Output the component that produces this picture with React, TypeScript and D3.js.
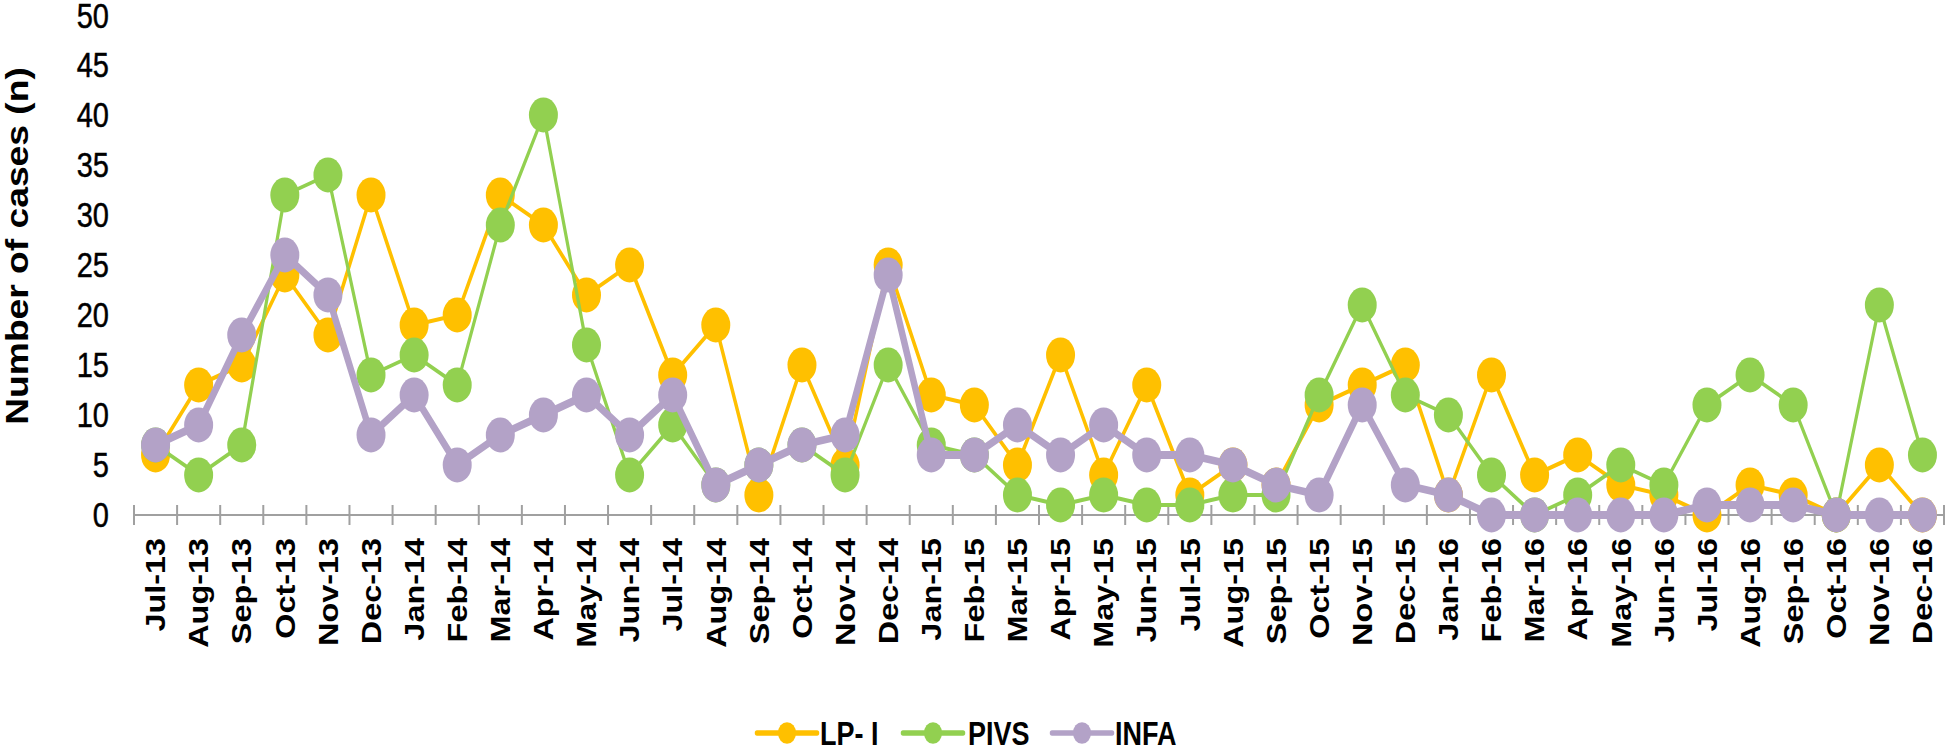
import React from "react";
import * as d3 from "d3";

const months = [
  "Jul-13","Aug-13","Sep-13","Oct-13","Nov-13","Dec-13",
  "Jan-14","Feb-14","Mar-14","Apr-14","May-14","Jun-14","Jul-14","Aug-14","Sep-14","Oct-14","Nov-14","Dec-14",
  "Jan-15","Feb-15","Mar-15","Apr-15","May-15","Jun-15","Jul-15","Aug-15","Sep-15","Oct-15","Nov-15","Dec-15",
  "Jan-16","Feb-16","Mar-16","Apr-16","May-16","Jun-16","Jul-16","Aug-16","Sep-16","Oct-16","Nov-16","Dec-16",
];

const lpI = [6,13,15,24,18,32,19,20,32,29,22,25,14,19,2,15,5,25,12,11,5,16,4,13,2,5,3,11,13,15,2,14,4,6,3,2,0,3,2,0,5,0];
const pivs = [7,4,7,32,34,14,16,13,29,40,17,4,9,3,5,7,4,15,7,6,2,1,2,1,1,2,2,12,21,12,10,4,0,2,5,3,11,14,11,0,21,6];
const infa = [7,9,18,26,22,8,12,5,8,10,12,8,12,3,5,7,8,24,6,6,9,6,9,6,6,5,3,2,11,3,2,0,0,0,0,0,1,1,1,0,0,0];

const yTicks = [0,5,10,15,20,25,30,35,40,45,50];

const seriesNames = ["LP- I", "PIVS", "INFA"];
const seriesValues = [lpI, pivs, infa];
const seriesColors = ["#FFC000", "#92D050", "#B3A2C7"];
const seriesWidths = [3.5, 3.2, 6.5];

const K = 1.2; // vertical stretch of the whole drawing
const X0 = 134;
const X1 = 1944;
const Y0 = 515 / K;
const Y50 = 15 / K;

export default function App() {
  const x = d3.scaleBand<string>().domain(months).range([X0, X1]).paddingInner(0).paddingOuter(0);
  const y = d3.scaleLinear().domain([0, 50]).range([Y0, Y50]);
  const bw = x.bandwidth();
  const cx = (m: string) => (x(m) as number) + bw / 2;
  const line = d3
    .line<number>()
    .x((_, i) => cx(months[i]))
    .y((v) => y(v));

  const tickXs = d3.range(months.length + 1).map((i) => X0 + i * bw);
  const font = "'Liberation Sans', Arial, sans-serif";

  const legendItems = [
    { lineX: 757, textX: 820 },
    { lineX: 903, textX: 968 },
    { lineX: 1052, textX: 1115 },
  ];
  const legY = 733 / K;

  return (
    <div style={{ position: "absolute", left: 0, top: 0 }}>
      <svg width={1946} height={750} style={{ display: "block", background: "#fff" }}>
        <g transform={`scale(1, ${K})`}>
          {/* y tick labels */}
          {yTicks.map((t) => (
            <text
              key={t}
              x={109}
              y={y(t) + (t === 50 ? 0.5 : 0)}
              dy="0.35em"
              textAnchor="end"
              fontFamily={font}
              fontSize={29}
              fill="#000"
              stroke="#000"
              strokeWidth={0.4}
            >
              {t}
            </text>
          ))}
          {/* y title */}
          <text
            transform={`translate(17, ${246 / K}) rotate(-90)`}
            textAnchor="middle"
            dy="0.35em"
            fontFamily={font}
            fontWeight="bold"
            fontSize={31}
            fill="#000"
          >
            Number of cases (n)
          </text>
          {/* x axis */}
          <line x1={X0} x2={X1} y1={Y0} y2={Y0} stroke="#A0A0A0" strokeWidth={1.8} />
          {tickXs.map((tx, i) => (
            <line key={i} x1={tx} x2={tx} y1={505 / K} y2={525 / K} stroke="#A0A0A0" strokeWidth={2} />
          ))}
          {months.map((m) => (
            <text
              key={m}
              transform={`translate(${cx(m)}, ${538 / K}) rotate(-90)`}
              textAnchor="end"
              dy="0.36em"
              fontFamily={font}
              fontWeight="bold"
              fontSize={27}
              fill="#000"
            >
              {m}
            </text>
          ))}
          {/* series */}
          {seriesValues.map((vals, s) => (
            <g key={seriesNames[s]}>
              <path
                d={line(vals) as string}
                fill="none"
                stroke={seriesColors[s]}
                strokeWidth={seriesWidths[s]}
                strokeLinejoin="round"
              />
              {vals.map((v, i) => (
                <circle key={i} cx={cx(months[i])} cy={y(v)} r={14.5} fill={seriesColors[s]} />
              ))}
            </g>
          ))}
          {/* legend */}
          {legendItems.map((it, s) => (
            <g key={s}>
              <line
                x1={it.lineX}
                x2={it.lineX + 60}
                y1={legY}
                y2={legY}
                stroke={seriesColors[s]}
                strokeWidth={4.5}
                strokeLinecap="round"
              />
              <circle cx={it.lineX + 30} cy={legY} r={9} fill={seriesColors[s]} />
              <text
                x={it.textX}
                y={legY}
                dy="0.36em"
                fontFamily={font}
                fontWeight="bold"
                fontSize={27}
                fill="#000"
              >
                {seriesNames[s]}
              </text>
            </g>
          ))}
        </g>
      </svg>
    </div>
  );
}
